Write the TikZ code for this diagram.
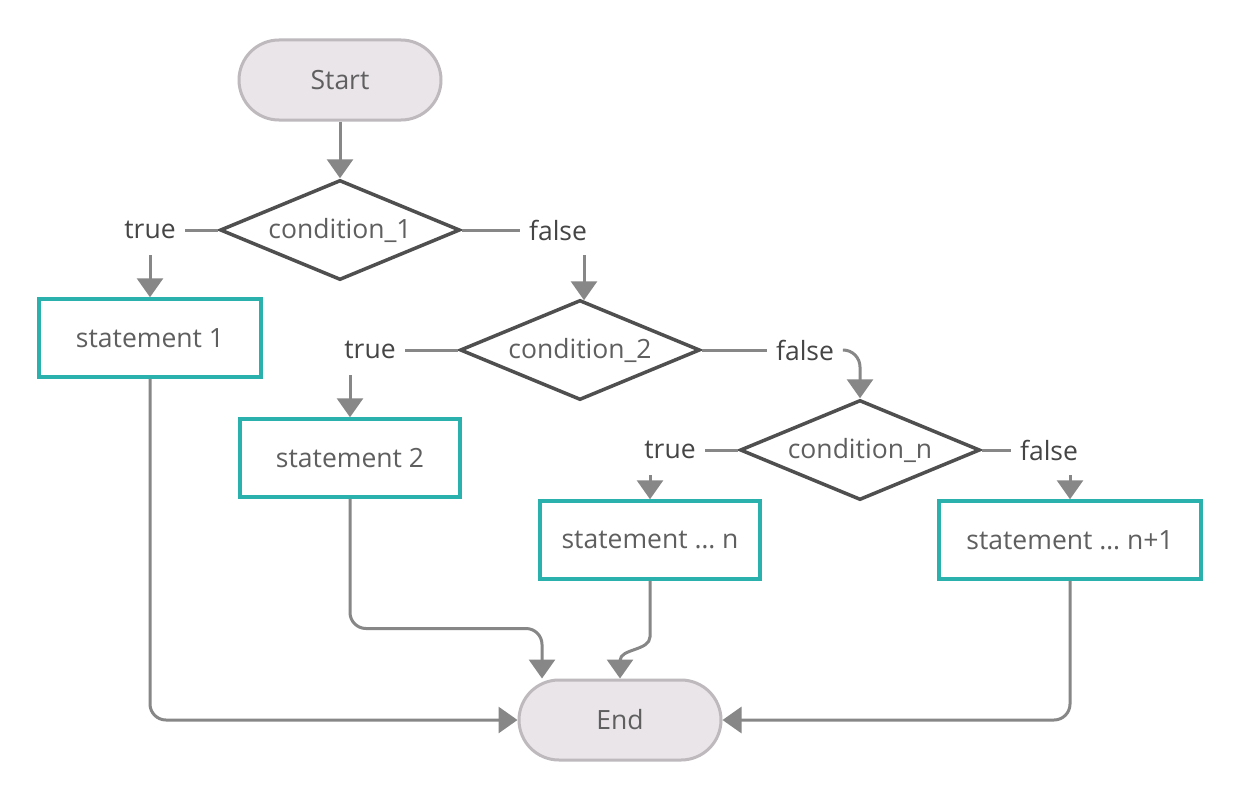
\documentclass[tikz,border=0pt]{standalone}
\usepackage{fontspec}
\setmainfont{Open Sans}
\usetikzlibrary{shapes.geometric,arrows.meta,calc}
\definecolor{termfill}{HTML}{E9E5E9}
\definecolor{termborder}{HTML}{BDB9BD}
\definecolor{decborder}{HTML}{4F4F4F}
\definecolor{tealc}{HTML}{2AB1AD}
\definecolor{conncol}{HTML}{878787}
\definecolor{txt}{HTML}{5F5F5F}
\definecolor{lbltxt}{HTML}{454545}
\begin{document}
\begin{tikzpicture}[x=1pt,y=-1pt,
  font=\fontsize{26.5}{30}\selectfont,
  term/.style={rectangle, rounded corners=40pt, draw=termborder, fill=termfill, line width=3pt, minimum width=202pt, minimum height=80pt, text=txt},
  dec/.style={diamond, aspect=2.4, draw=decborder, line width=3.5pt, minimum width=240pt, minimum height=100pt, inner sep=0pt, text=txt},
  stmt/.style={rectangle, draw=tealc, line width=3.5pt, minimum height=78pt, text=txt},
  lbl/.style={text=lbltxt, inner xsep=9pt, inner ysep=0pt, minimum height=50pt},
  conn/.style={draw=conncol, line width=3pt},
  arr/.style={conn, -{Triangle[length=19pt,width=26pt]}, color=conncol}]
\fill[white] (0,0) rectangle (1241,800);
\useasboundingbox (0,0) rectangle (1241,800);

\node[term] (start) at (340,80) {Start};
\node[dec] (d1) at (340,230) {condition\_1};
\node[lbl] (t1) at (150,230) {true};
\node[lbl] (f1) at (558,230) {false};
\node[stmt, minimum width=222pt] (s1) at (150,338) {statement 1};
\node[dec] (d2) at (580,350) {condition\_2};
\node[lbl] (t2) at (370,350) {true};
\node[lbl] (f2) at (805,350) {false};
\node[stmt, minimum width=220pt] (s2) at (350,458) {statement 2};
\node[dec] (d3) at (860,450) {condition\_n};
\node[lbl] (t3) at (670,450) {true};
\node[lbl] (f3) at (1049,450) {false};
\node[stmt, minimum width=220pt] (s3) at (650,540) {statement … n};
\node[stmt, minimum width=262pt] (s4) at (1070,540) {statement … n+1};
\node[term] (end) at (620,720) {End};

\coordinate (e1) at ($(end.north)+(-78,0)$);

\draw[arr] (start.south) -- (d1.north);
\draw[conn] (d1.west) -- (t1.east);
\draw[conn] (d1.east) -- (f1.west);
\draw[conn] (d2.west) -- (t2.east);
\draw[conn] (d2.east) -- (f2.west);
\draw[conn] (d3.west) -- (t3.east);
\draw[conn] (d3.east) -- (f3.west);
\draw[arr] (t1.south -| s1.north) -- (s1.north);
\draw[arr] ($(f1.south -| d2.north)+(4,0)$) -- ($(d2.north)+(4,2)$);
\draw[arr] (t2.south -| s2.north) -- (s2.north);
\draw[arr, rounded corners=17pt] (f2.east) -| (d3.north);
\draw[arr] (t3.south -| s3.north) -- (s3.north);
\draw[arr] (f3.south -| s4.north) -- (s4.north);
\draw[arr, rounded corners=16pt] (s1.south) |- (end.west);
\draw[arr, rounded corners=16pt] (s2.south) |- ($(e1)+(0,-50)$) -- (e1);
\draw[arr] (s3.south) -- ++(0,56) .. controls +(0,14) and +(0,-12) .. ($(end.north)+(0,-18)$) -- (end.north);
\draw[arr, rounded corners=16pt] (s4.south) |- (end.east);
\end{tikzpicture}
\end{document}
